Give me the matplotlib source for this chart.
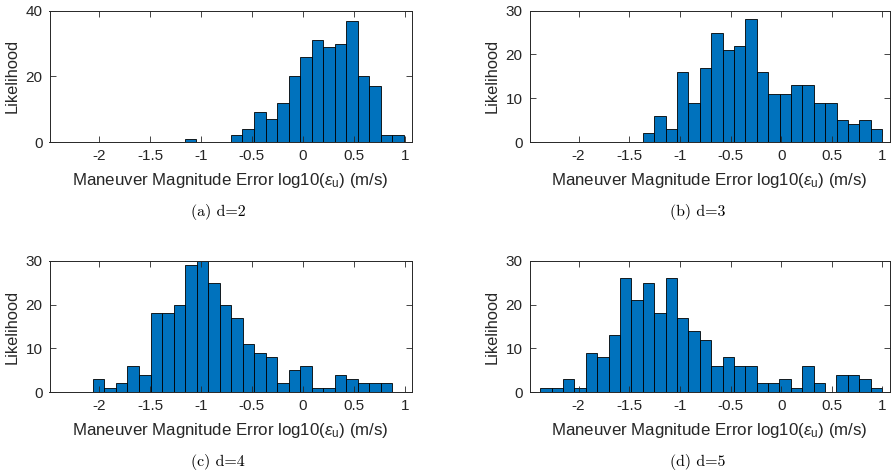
import numpy as np
import matplotlib
matplotlib.use("Agg")
import matplotlib.pyplot as plt

plt.rcParams['font.family'] = ['Liberation Sans', 'DejaVu Sans']
plt.rcParams['axes.unicode_minus'] = False
plt.rcParams['mathtext.fontset'] = 'custom'
plt.rcParams['mathtext.rm'] = 'Liberation Sans'
plt.rcParams['mathtext.it'] = 'Liberation Sans:italic'

# ---- data (histogram counts, bin starts and bin widths) ----
counts_a = [1, 0, 0, 0, 2, 4, 9, 7, 12, 20, 26, 31, 29, 30, 37, 20, 17, 2, 2]
start_a, width_a = -1.157, 0.1129

counts_b = [2, 6, 3, 16, 9, 17, 25, 21, 22, 28, 16, 11, 11, 13, 13, 9, 9, 5, 4, 5, 3]
start_b, width_b = -1.366, 0.1126

counts_c = [3, 1, 2, 6, 4, 18, 18, 20, 29, 30, 25, 20, 17, 11, 9, 8, 2, 5, 6, 1, 1, 4, 3, 2, 2, 2]
start_c, width_c = -2.059, 0.1129

counts_d = [1, 1, 3, 1, 9, 8, 13, 26, 21, 25, 18, 26, 17, 14, 12, 6, 8, 6, 6, 2, 2, 3, 1, 6, 2, 0, 4, 4, 3, 1]
start_d, width_d = -2.379, 0.1125

xticks = [-2, -1.5, -1, -0.5, 0, 0.5, 1]
xticklabels = ['-2', '-1.5', '-1', '-0.5', '0', '0.5', '1']
yticks_a = [0, 20, 40]
yticks_bcd = [0, 10, 20, 30]
captions = ['(a) d=2', '(b) d=3', '(c) d=4', '(d) d=5']

W, H = 892, 476
fig = plt.figure(figsize=(W / 100, H / 100), dpi=100)

dark = (0.15, 0.15, 0.15)
bar_color = '#0072BD'

panels = [
    (counts_a, start_a, width_a, yticks_a, (49.5, 412.0, 10.7, 142.0), 218, 212),
    (counts_b, start_b, width_b, yticks_bcd, (529.5, 889.5, 10.7, 142.0), 698, 212),
    (counts_c, start_c, width_c, yticks_bcd, (49.5, 412.0, 261.0, 392.0), 218, 462),
    (counts_d, start_d, width_d, yticks_bcd, (529.5, 889.5, 261.0, 392.0), 698, 462),
]

for (counts, start, width, yticks, (l, r, t, b), cx, cy), cap in zip(panels, captions):
    ax = fig.add_axes([l / W, 1 - b / H, (r - l) / W, (b - t) / H])
    counts = np.asarray(counts)
    lefts = start + width * np.arange(len(counts))
    ax.bar(lefts, counts, width=width, align='edge', color=bar_color,
           edgecolor='black', linewidth=0.6)
    ax.set_xlim(-2.485, 1.07)
    ax.set_ylim(0, yticks[-1])
    ax.set_xticks(xticks)
    ax.set_xticklabels(xticklabels)
    ax.set_yticks(yticks)
    ax.tick_params(direction='in', top=True, right=True, length=4, width=0.6,
                   labelsize=11, colors=dark, labelcolor=dark, pad=5)
    for s in ax.spines.values():
        s.set_color(dark)
        s.set_linewidth(0.7)
    ax.set_xlabel(r'Maneuver Magnitude Error log10($\epsilon_{\mathrm{u}}$) (m/s)',
                  fontsize=12.2, color=dark, labelpad=6)
    ax.set_ylabel('Likelihood', fontsize=11.8, color=dark, labelpad=4)
    fig.text(cx / W, 1 - cy / H, cap, family='cmr10', fontsize=11.5,
             ha='center', va='center')

fig.savefig('out.png', dpi=100)
